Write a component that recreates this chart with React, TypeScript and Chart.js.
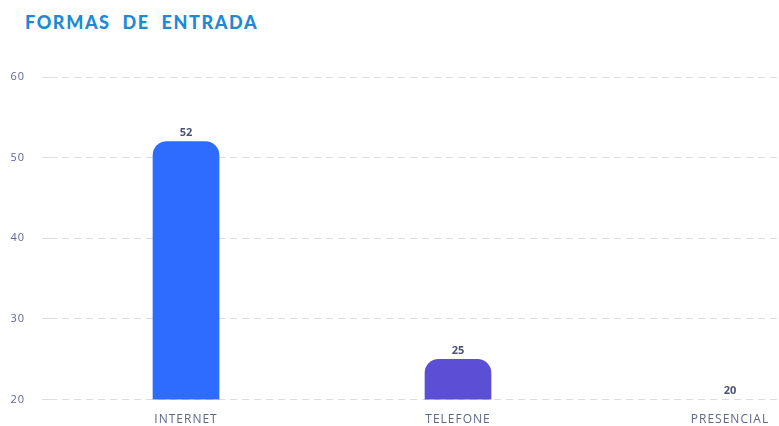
import React, { useEffect, useRef } from "react";
import { Chart, registerables } from "chart.js";

Chart.register(...registerables);

const categories = ["INTERNET", "TELEFONE", "PRESENCIAL"];
const values = [52, 25, 20];
const barColors = ["#2d6cff", "#5b4fd6", "rgba(0,0,0,0)"];
const yTicks = [20, 30, 40, 50, 60];

const valueLabels = {
  id: "valueLabels",
  afterDatasetsDraw(chart: any) {
    const ctx = chart.ctx;
    const meta = chart.getDatasetMeta(0);
    ctx.save();
    ctx.letterSpacing = "0px";
    ctx.font = "bold 11px 'Open Sans'";
    ctx.fillStyle = "#4a5273";
    ctx.textAlign = "center";
    ctx.textBaseline = "bottom";
    meta.data.forEach((bar: any, i: number) => {
      ctx.fillText(String(values[i]), bar.x, bar.y - 3);
    });
    ctx.restore();
  },
};

const spacing = {
  id: "spacing",
  beforeLayout(chart: any) {
    chart.ctx.letterSpacing = "1px";
  },
};

export default function App() {
  const ref = useRef<HTMLCanvasElement>(null);
  useEffect(() => {
    if (!ref.current) return;
    const chart = new Chart(ref.current, {
      type: "bar",
      data: {
        labels: categories,
        datasets: [
          {
            data: values,
            backgroundColor: barColors,
            borderRadius: { topLeft: 14, topRight: 14, bottomLeft: 0, bottomRight: 0 },
            borderSkipped: "bottom",
            barThickness: 66,
          },
        ],
      },
      options: {
        animation: false,
        responsive: false,
        maintainAspectRatio: false,
        layout: { padding: { top: 77, right: 14, left: 0, bottom: 0 } },
        plugins: {
          legend: { display: false },
          tooltip: { enabled: false },
          title: { display: false },
        },
        scales: {
          x: {
            grid: { display: false, drawTicks: false },
            border: { display: false },
            ticks: {
              color: "#5f6788",
              padding: 13,
              font: { family: "'Open Sans'", size: 12 },
            },
          },
          y: {
            min: 20,
            max: 60,
            afterFit(scale: any) {
              scale.width = 50;
            },
            afterBuildTicks(scale: any) {
              scale.ticks = yTicks.map((v) => ({ value: v }));
            },
            grid: {
              color: "#dcdde3",
              drawTicks: true,
              tickLength: 8,
              lineWidth: 1,
            },
            border: { display: false, dash: [7, 5] },
            ticks: {
              color: "#5d6690",
              padding: 17,
              font: { family: "'Open Sans'", size: 11 },
            },
          },
        },
      },
      plugins: [spacing, valueLabels],
    });
    return () => chart.destroy();
  }, []);

  return (
    <div
      style={{
        position: "fixed",
        left: 0,
        top: 0,
        width: 779,
        height: 426,
        overflow: "hidden",
        background: "#fff",
      }}
    >
      <div
        style={{
          position: "absolute",
          left: 25,
          top: 11,
          fontFamily: "Lato, 'Open Sans', sans-serif",
          fontWeight: 900,
          fontSize: 18,
          letterSpacing: "1.6px",
          wordSpacing: "6px",
          color: "#1b8ad8",
          whiteSpace: "nowrap",
        }}
      >
        FORMAS DE ENTRADA
      </div>
      <canvas
        ref={ref}
        width={880}
        height={440}
        style={{ position: "absolute", left: 0, top: 0, width: 880, height: 440 }}
      />
    </div>
  );
}
